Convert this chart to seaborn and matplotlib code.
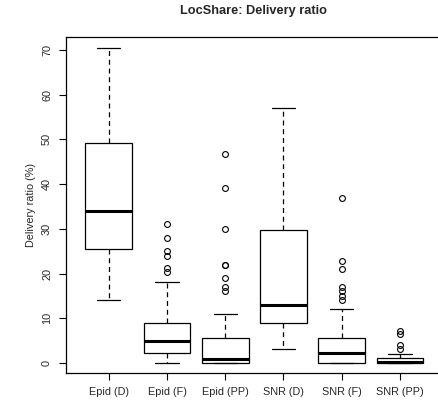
import matplotlib
matplotlib.use("Agg")
import matplotlib.pyplot as plt
import seaborn as sns
import pandas as pd

# ---- data ----
categories = ["Epid (D)", "Epid (F)", "Epid (PP)", "SNR (D)", "SNR (F)", "SNR (PP)"]

epid_d = [14.0, 20.0, 25.5, 30.0, 34.0, 42.0, 49.3, 60.0, 70.5]
epid_f = [0.0, 0.5, 1.0, 1.2, 1.5, 1.8, 2.0, 2.2, 2.6, 3.0, 3.5, 4.0, 4.4, 4.8,
          5.0, 5.5, 6.0, 6.6, 7.2, 8.0, 8.6, 9.0,
          18.0, 20.4, 21.2, 24.0, 25.0, 28.0, 31.0]
epid_pp = [0.0, 0.0, 0.0, 0.0, 0.0, 0.0, 0.0, 0.0, 0.0, 0.0,
           0.1, 0.2, 0.3, 0.4, 0.5, 0.6, 0.8, 0.9, 1.0,
           1.5, 2.0, 2.5, 3.0, 3.5, 4.0, 4.5, 5.0, 5.5,
           11.0, 16.0, 17.1, 19.0, 22.0, 22.0, 29.9, 39.2, 46.8]
snr_d = [3.1, 6.0, 9.0, 11.0, 13.0, 20.0, 29.7, 42.0, 57.0]
snr_f = [0.0, 0.0, 0.0, 0.0, 0.0, 0.0, 0.0, 0.0, 0.0,
         0.3, 0.6, 0.9, 1.2, 1.5, 1.8, 2.0, 2.2,
         2.6, 3.0, 3.5, 4.0, 4.5, 4.8, 5.2, 5.5,
         12.0, 14.0, 15.0, 16.0, 17.1, 21.0, 22.7, 36.8]
snr_pp = [0.0, 0.0, 0.0, 0.0, 0.0, 0.0,
          0.0, 0.05, 0.1, 0.1, 0.15,
          0.3, 0.5, 0.7, 0.9, 1.05,
          2.1, 3.2, 4.0, 6.4, 7.2]

y_ticks = [0, 10, 20, 30, 40, 50, 60, 70]

series = [epid_d, epid_f, epid_pp, snr_d, snr_f, snr_pp]
rows = []
for cat, vals in zip(categories, series):
    for v in vals:
        rows.append({"group": cat, "value": v})
df = pd.DataFrame(rows)

# ---- style ----
sns.set_theme(style="white")
plt.rcParams["font.family"] = ["Liberation Sans", "DejaVu Sans"]

fig = plt.figure(figsize=(4.38, 4.07), dpi=100)
W, H = 438, 407
ax_left, ax_right, ax_top, ax_bot = 65.7, 443.0, 36.7, 373.0
ax = fig.add_axes([ax_left / W, 1 - ax_bot / H, (ax_right - ax_left) / W, (ax_bot - ax_top) / H])

sns.boxplot(
    data=df, x="group", y="value", order=categories, ax=ax,
    color="white", linecolor="black", linewidth=0.9, width=0.8, whis=1.5,
    fliersize=4.2,
    whiskerprops={"linestyle": (0, (4, 3)), "linewidth": 0.9},
    capprops={"linewidth": 0.9},
    medianprops={"linewidth": 2.2, "color": "black"},
    flierprops={"marker": "o", "markerfacecolor": "none",
                "markeredgecolor": "black", "markeredgewidth": 0.8},
    boxprops={"facecolor": "white", "edgecolor": "black"},
)

ax.set_xlim(-0.74, 5.74)
ax.set_ylim(-2.24, 72.97)
ax.set_yticks(y_ticks)
ax.set_yticklabels([str(t) for t in y_ticks], rotation=90, va="center", fontsize=7.8)
ax.set_xticks(range(len(categories)))
ax.set_xticklabels(categories, fontsize=7.8)
ax.tick_params(axis="both", direction="out", length=4.8, width=0.8, color="black",
               left=True, bottom=True)
ax.tick_params(axis="y", pad=5.0)
ax.tick_params(axis="x", pad=5.0)

ax.set_xlabel("")
ax.set_ylabel("Delivery ratio (%)", fontsize=7.8)
ax.yaxis.set_label_coords((36 - ax_left) / (ax_right - ax_left), 0.5)

for s in ax.spines.values():
    s.set_visible(True)
    s.set_color("black")
    s.set_linewidth(0.9)

fig.text(254 / W, 1 - 11 / H, "LocShare: Delivery ratio", ha="center", va="center",
         fontsize=9.2, fontweight="bold")

fig.savefig("out.png", dpi=100, facecolor="white")
